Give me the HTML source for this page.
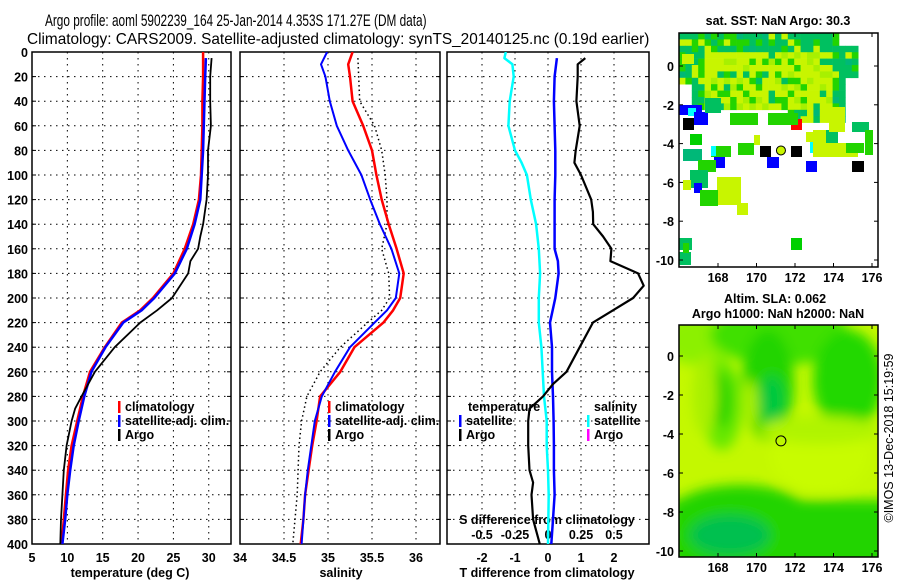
<!DOCTYPE html>
<html><head><meta charset="utf-8">
<style>
html,body{margin:0;padding:0;background:#fff;}
svg{display:block;font-family:"Liberation Sans",Arial,sans-serif;}
</style></head>
<body>
<svg id="fig" width="900" height="580" viewBox="0 0 900 580" xmlns="http://www.w3.org/2000/svg">
<defs>
<filter id="blur" x="-20%" y="-20%" width="140%" height="140%"><feGaussianBlur stdDeviation="6"/></filter>
<clipPath id="clipT"><rect x="32" y="52" width="199" height="492"/></clipPath>
<clipPath id="clipS"><rect x="240" y="52" width="200" height="492"/></clipPath>
<clipPath id="clipD"><rect x="447" y="52" width="202" height="492"/></clipPath>
<clipPath id="clipM1"><rect x="679" y="33" width="199" height="234"/></clipPath>
<clipPath id="clipM2"><rect x="679" y="325" width="199" height="232"/></clipPath>
</defs>
<text id="title1" x="0" y="0" font-size="17">Argo profile: aoml 5902239_164 25-Jan-2014 4.353S 171.27E (DM data)</text>
<text id="title2" x="0" y="0" font-size="15.5">Climatology: CARS2009. Satellite-adjusted climatology: synTS_20140125.nc (0.19d earlier)</text>
<g id="g"></g>
</svg>
<script>
// ---------- data ----------
const depthsT = [0,20,40,60,80,100,120,140,160,180,200,210,220,240,260,280,300,320,340,360,380,400];
const tempClim = [29.2,29.2,29.1,29.1,29.0,28.9,28.6,27.8,26.6,25.0,22.1,20.3,17.7,15.3,13.2,12.2,11.4,10.6,10.1,9.8,9.5,9.2];
const depthsSat = [5,20,40,60,80,100,120,140,160,180,200,210,220,240,260,280,300,320,340,360,380,400];
const tempSat = [29.6,29.5,29.4,29.3,29.2,29.0,28.8,28.0,26.9,25.2,22.3,20.5,17.9,15.4,13.4,12.4,11.6,10.9,10.4,10.0,9.7,9.3];
const depthsArgo = [5,20,40,60,80,100,120,140,150,160,170,180,200,210,220,240,260,280,290,300,320,340,360,380,400];
const tempArgo = [30.4,30.2,30.2,30.3,29.9,29.9,29.7,29.2,28.8,28.5,27.4,27.1,24.8,22.7,20.3,16.7,13.9,12.0,11.1,10.6,9.9,9.5,9.3,9.1,9.0];
const depthsS = [0,10,20,40,60,80,100,120,140,160,180,200,210,220,240,260,280,300,320,340,360,380,400];
const salClim = [35.28,35.23,35.25,35.28,35.40,35.50,35.55,35.61,35.69,35.78,35.86,35.82,35.74,35.63,35.30,35.14,34.91,34.87,34.82,34.78,34.74,34.72,34.69];
const salSat = [34.99,34.92,34.97,35.02,35.10,35.23,35.38,35.48,35.59,35.72,35.81,35.77,35.67,35.53,35.25,35.08,34.93,34.85,34.81,34.77,34.74,34.72,34.70];
const depthsSA = [5,40,60,80,100,120,140,160,180,200,210,220,240,260,280,300,320,340,360,400];
const salArgo = [35.34,35.36,35.53,35.61,35.65,35.67,35.67,35.61,35.69,35.70,35.61,35.45,35.14,34.91,34.76,34.70,34.67,34.66,34.65,34.60];
const depthsD = [5,20,40,60,80,100,120,140,160,170,180,200,220,240,260,280,300,320,340,360,380,400];
const tDiffSat = [0.27,0.20,0.18,0.20,0.22,0.22,0.20,0.20,0.20,0.30,0.32,0.22,0.06,0.12,0.12,0.15,0.17,0.18,0.18,0.20,0.15,0.10];
const depthsDA = [5,10,20,40,60,80,90,100,120,130,140,150,160,170,180,190,200,210,220,240,260,270,280,290,300,320,340,350,360,380,400];
const tDiffArgo = [1.13,0.9,0.9,0.86,0.96,0.84,0.8,1.0,1.31,1.36,1.37,1.67,1.92,1.89,2.73,2.9,2.58,1.97,1.36,0.96,0.56,0.15,-0.15,-0.56,-0.6,-0.6,-0.56,-0.45,-0.5,-0.45,-0.25];
const depthsDS = [0,5,10,20,40,60,80,90,100,120,140,160,180,200,220,240,260,280,300,320,340,360,400];
const sDiffSat = [-0.32,-0.33,-0.27,-0.26,-0.29,-0.30,-0.25,-0.20,-0.16,-0.13,-0.09,-0.07,-0.06,-0.07,-0.07,-0.05,-0.04,-0.03,-0.01,-0.01,0,0.005,0];
const depthTicks = [0,20,40,60,80,100,120,140,160,180,200,220,240,260,280,300,320,340,360,380,400];
const tTicks = [5,10,15,20,25,30];
const sTicks = [34,34.5,35,35.5,36];
const dTicks = [-2,-1,0,1,2];
const sdTicks = [-0.5,-0.25,0,0.25,0.5];
const sdLabels = ['-0.5','-0.25','0','0.25','0.5'];
const lonTicks = [168,170,172,174,176];
const latTicks = [0,-2,-4,-6,-8,-10];

// ---------- titles (fit to reference widths) ----------
function fitTitle(id,x0,x1,base){const t=document.getElementById(id);const w=t.getComputedTextLength();const s=(x1-x0)/w;t.setAttribute('transform','translate('+x0+','+base+') scale('+s.toFixed(4)+',1)');}
fitTitle('title1',45,427,26);
fitTitle('title2',27,650,44);

// ---------- scales ----------
const Y = d => 52 + d*1.23;
const XT = t => 32 + (t-5)*7.07;
const XS = s => 240 + (s-34)*88;
const XD = v => 548 + v*33;
const XSD = v => 548 + v*132;
const LON = l => 718 + (l-168)*19.25;
const LAT1 = a => 66 - a*19.4;
const LAT2 = a => 356 - a*19.5;

const NS='http://www.w3.org/2000/svg';
const root=document.getElementById('g');
function mk(tag, attrs, parent){const e=document.createElementNS(NS,tag);for(const k in attrs)e.setAttribute(k,attrs[k]);(parent||root).appendChild(e);return e;}
function txt(x,y,s,anchor,size,parent,weight){const e=mk('text',{x:x,y:y,'text-anchor':anchor||'start','font-size':size||12.5,'font-weight':weight||'bold'},parent);e.textContent=s;return e;}
function line(xs,ds,xf,color,w,clip,dash){const pts=xs.map((v,i)=>xf(v).toFixed(1)+','+Y(ds[i]).toFixed(1)).join(' ');const a={points:pts,fill:'none',stroke:color,'stroke-width':w,'clip-path':'url(#'+clip+')','stroke-linejoin':'round'};if(dash)a['stroke-dasharray']=dash;return mk('polyline',a);}

function panel(name,x0,x1,grid,xf){
  const g=mk('g',{});
  
  
  depthTicks.forEach(d=>{if(d>0&&d<400)mk('line',{x1:x0,x2:x1,y1:Y(d),y2:Y(d),stroke:'#000','stroke-width':1,'stroke-dasharray':'1.5,4.5'},g);
    mk('line',{x1:x0,x2:x0+4,y1:Y(d),y2:Y(d),stroke:'#000'},g);mk('line',{x1:x1-4,x2:x1,y1:Y(d),y2:Y(d),stroke:'#000'},g);});
  grid.forEach(v=>{const x=xf(v);if(x>x0+2&&x<x1-2)mk('line',{x1:x,x2:x,y1:52,y2:544,stroke:'#000','stroke-width':1,'stroke-dasharray':'1.5,4.5'},g);});
  mk('rect',{x:x0,y:52,width:x1-x0,height:492,fill:'none',stroke:'#000','stroke-width':1.5},g);
  return g;
}
// Panel 1
const p1=panel('temperature-panel',32,231,tTicks,XT);
depthTicks.forEach(d=>{const e=txt(28,Y(d)+5,String(d),'end',12.5,p1);});
tTicks.forEach(t=>{const e=txt(XT(t),562,String(t),'middle',12.5,p1);});
const xt1=txt(130,577,'temperature (deg C)','middle',12.5,p1);

let l;
l=line(tempClim,depthsT,XT,'#f00',2.5,'clipT');
l=line(tempSat,depthsSat,XT,'#00f',2.5,'clipT');
l=line(tempArgo,depthsArgo,XT,'#000',1.8,'clipT');
function legend(x,y,items,parent,name){const g=mk('g',{},parent);
  items.forEach((it,i)=>{if(it[1])mk('rect',{x:x,y:y+i*14-10,width:2.5,height:12,fill:it[1]},g);txt(x+7,y+i*14,it[0],'start',12.5,g);});}
legend(118,411,[['climatology','#f00'],['satellite-adj. clim.','#00f'],['Argo','#000']],p1,'temperature-legend');
// Panel 2
const p2=panel('salinity-panel',240,440,sTicks,XS);
sTicks.forEach(s=>{const e=txt(XS(s),562,String(s),'middle',12.5,p2);});
const xt2=txt(341,577,'salinity','middle',12.5,p2);

l=line(salArgo,depthsSA,XS,'#000',1.5,'clipS','1.5,3');
l=line(salClim,depthsS,XS,'#f00',2.5,'clipS');
l=line(salSat,depthsS,XS,'#00f',2,'clipS');
legend(328,411,[['climatology','#f00'],['satellite-adj. clim.','#00f'],['Argo','#000']],p2,'salinity-legend');
// Panel 3
const p3=panel('difference-panel',447,649,dTicks,XD);
dTicks.forEach(v=>{const e=txt(XD(v),562,String(v),'middle',12.5,p3);});
const xt3=txt(547,577,'T difference from climatology','middle',12.5,p3);

l=line(sDiffSat,depthsDS,XSD,'#0ff',2.5,'clipD');
l=line(tDiffSat,depthsD,XD,'#00f',2.5,'clipD');
l=line(tDiffArgo,depthsDA,XD,'#000',2.2,'clipD');
const st=txt(547,524,'S difference from climatology','middle',12.5,p3);

sdTicks.forEach((v,i)=>{const e=txt(XSD(v),539,sdLabels[i],'middle',12.5,p3);});
txt(468,411,'temperature','start',12.5,p3);
legend(459,425,[['satellite','#00f'],['Argo','#000']],p3,'temperature-diff-legend');
txt(594,411,'salinity','start',12.5,p3);
legend(587,425,[['satellite','#0ff'],['Argo','#f0f']],p3,'salinity-diff-legend');

// ---------- maps ----------
function mapAxes(g,latf,top,bot){
  lonTicks.forEach(lo=>{const x=LON(lo);mk('line',{x1:x,x2:x,y1:top,y2:top+4,stroke:'#000'},g);mk('line',{x1:x,x2:x,y1:bot-4,y2:bot,stroke:'#000'},g);
    const e=txt(x,bot+15,String(lo),'middle',12.5,g);});
  latTicks.forEach(a=>{const y=latf(a);mk('line',{x1:679,x2:683,y1:y,y2:y,stroke:'#000'},g);mk('line',{x1:874,x2:878,y1:y,y2:y,stroke:'#000'},g);
    const e=txt(674,y+5,String(a),'end',12.5,g);});
  mk('rect',{x:679,y:top,width:199,height:bot-top,fill:'none',stroke:'#000','stroke-width':1.5},g);
}
// SST map
const m1=mk('g',{});


const m1c=mk('g',{'clip-path':'url(#clipM1)'},m1);
function hash(i,j){let h=(i*374761393+j*668265263)>>>0;h=((h^(h>>>13))*1274126177)>>>0;return (h%1000)/1000;}
const cw=6.4,ch=6.4;
for(let j=0;j<15;j++)for(let i=0;i<29;i++){
  const x=679+i*cw,y=33+j*ch;
  const cx=x+cw/2,cy=y+ch/2;
  let inside = cy<100 ? (cx<860) : (cy<113 && cx>693 && cx<830);
  if(cy>100 && cx>790 && cx<845 && cy<125) inside=true;
  if(cy>35&&cy<48&&cx>840) inside=false;
  if(cy>80&&cx>845) inside=false;
  if(cx<693&&cy>85) inside=false;
  if(!inside)continue;
  const core = (cx>705&&cx<830&&cy>50&&cy<112);
  const r=hash(i,j);
  let col;
  if(core) col = r<0.62?'#c8f500':(r<0.8?'#a8f000':(r<0.92?'#22d400':'#00c060'));
  else col = r<0.45?'#00c060':(r<0.75?'#22d400':(r<0.9?'#c8f500':'#00b878'));
  mk('rect',{x:x,y:y,width:cw+0.3,height:ch+0.3,fill:col},m1c);
}
const sstBlocks = [
 [682,54,12,10,'#c8f500'],[679,105,23,10,'#00f'],[688,108,8,8,'#0ff'],[694,112,14,13,'#00f'],[683,118,11,12,'#000'],
 [791,119,11,11,'#f00'],[760,146,11,11,'#000'],[791,146,11,11,'#000'],[852,161,12,11,'#000'],
 [714,157,11,11,'#00f'],[767,157,12,11,'#00f'],[806,161,11,11,'#00f'],[810,142,11,11,'#0ff'],
 [690,134,12,11,'#00d000'],[683,149,19,12,'#00b878'],[711,146,20,11,'#22d400'],[711,146,5,10,'#0ff'],
 [738,143,16,12,'#22d400'],[717,177,24,28,'#c8f500'],[737,203,11,12,'#c8f500'],[698,160,18,12,'#22d400'],
 [690,170,18,18,'#00c060'],[694,183,8,10,'#00f'],[683,180,8,10,'#c8f500'],[700,190,18,16,'#22d400'],
 [791,238,11,12,'#00d000'],[679,238,13,12,'#00c060'],[679,252,12,13,'#00c060'],[683,243,6,10,'#22d400'],
 [813,130,14,15,'#c8f500'],[826,130,12,14,'#00c060'],[813,143,45,14,'#c8f500'],[829,107,16,25,'#c8f500'],
 [852,122,17,10,'#00c060'],[865,130,8,25,'#22d400'],[846,143,18,10,'#22d400'],[806,132,10,10,'#c8f500'],
 [768,113,30,12,'#22d400'],[730,113,28,12,'#22d400'],[705,98,16,15,'#00c060'],[754,135,6,10,'#c8f500']];
sstBlocks.forEach(b=>mk('rect',{x:b[0],y:b[1],width:b[2],height:b[3],fill:b[4]},m1c));
const argo1=mk('circle',{cx:LON(171.27),cy:LAT1(-4.353),r:4.5,fill:'#c8f500',stroke:'#000','stroke-width':1},m1c);


mapAxes(m1,LAT1,33,267);
const mt1=txt(778,25,'sat. SST: NaN Argo: 30.3','middle',12.5,m1);


// SLA map
const m2=mk('g',{});


const m2c=mk('g',{'clip-path':'url(#clipM2)'},m2);
mk('rect',{x:679,y:325,width:199,height:232,fill:'#c4f800'},m2c);
const bl=mk('g',{filter:'url(#blur)'},m2c);
const slaBlobs=[
 ['ellipse',{cx:700,cy:340,rx:40,ry:25,fill:'#8cf000'}],
 ['ellipse',{cx:780,cy:335,rx:70,ry:30,fill:'#40e000'}],
 ['ellipse',{cx:848,cy:380,rx:35,ry:50,fill:'#22d800'}],
 ['ellipse',{cx:722,cy:405,rx:20,ry:45,fill:'#66e800'}],
 ['ellipse',{cx:722,cy:400,rx:10,ry:28,fill:'#22d400'}],
 ['ellipse',{cx:768,cy:385,rx:26,ry:55,fill:'#22d400'}],
 ['ellipse',{cx:772,cy:400,rx:12,ry:25,fill:'#00c840'}],
 ['ellipse',{cx:750,cy:405,rx:8,ry:25,fill:'#a8f000'}],
 ['ellipse',{cx:705,cy:395,rx:12,ry:40,fill:'#a8f000'}],
 ['rect',{x:670,y:500,width:220,height:70,fill:'#22d400'}],
 ['ellipse',{cx:740,cy:515,rx:70,ry:30,fill:'#22d400'}],
 ['ellipse',{cx:730,cy:535,rx:40,ry:20,fill:'#00c050'}],
 ['ellipse',{cx:820,cy:455,rx:50,ry:38,fill:'#c8fc00'}],
 ['ellipse',{cx:820,cy:430,rx:60,ry:14,fill:'#b0f400'}]];
slaBlobs.forEach(b=>mk(b[0],b[1],bl));
const argo2=mk('circle',{cx:LON(171.27),cy:LAT2(-4.353),r:5,fill:'none',stroke:'#000','stroke-width':1},m2c);


mapAxes(m2,LAT2,325,557);
const mt2=txt(775,303,'Altim. SLA: 0.062','middle',12.5,m2);

const mt3=txt(778,318,'Argo h1000: NaN h2000: NaN','middle',12.5,m2);

const cr=txt(0,0,'©IMOS 13-Dec-2018 15:19:59','middle',12.5,null,'normal');
cr.setAttribute('transform','translate(893,438) rotate(-90)');


</script>
</body></html>
